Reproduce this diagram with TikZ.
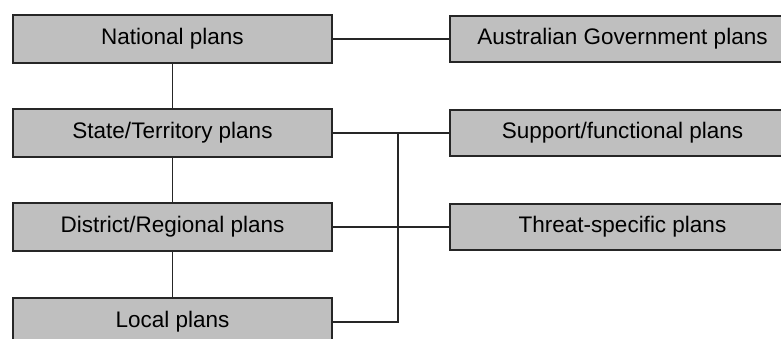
\documentclass[tikz,border=0pt]{standalone}
\usepackage{fontspec}
\setmainfont{Liberation Sans}

\begin{document}
\begin{tikzpicture}[x=0.025cm,y=-0.025cm,
  plan/.style={draw=black!85,line width=1.3pt,fill=black!25,minimum width=7.975cm,minimum height=1.2cm,inner sep=0pt,text height=0.28cm,text depth=0pt,font=\fontsize{16}{19}\selectfont},
  wide/.style={plan,minimum width=8.625cm,minimum height=1.15cm},
  link/.style={draw=black!85,line width=1.1pt}]
 \clip (0,0) rectangle (781,339);
 \fill[white] (0,0) rectangle (781,339);
 \node[plan] (nat) at (172.5,39) {National plans};
 \node[plan] (state) at (172.5,133) {State/Territory plans};
 \node[plan] (dist) at (172.5,227) {District/Regional plans};
 \node[plan] (loc) at (172.5,322) {Local plans};
 \node[wide] (aus) at (622.5,39) {Australian Government plans};
 \node[wide] (sup) at (622.5,133) {Support/functional plans};
 \node[wide] (thr) at (622.5,227) {Threat-specific plans};
 \coordinate (bus) at (398,133);
 \draw[link] (nat) -- (state);
 \draw[link] (state) -- (dist);
 \draw[link] (dist) -- (loc);
 \draw[link] (nat.east) -- (aus.west);
 \draw[link] (state.east) -- (sup.west);
 \draw[link] (dist.east) -- (thr.west);
 \draw[link] (loc.east) -| (bus);
\end{tikzpicture}
\end{document}
